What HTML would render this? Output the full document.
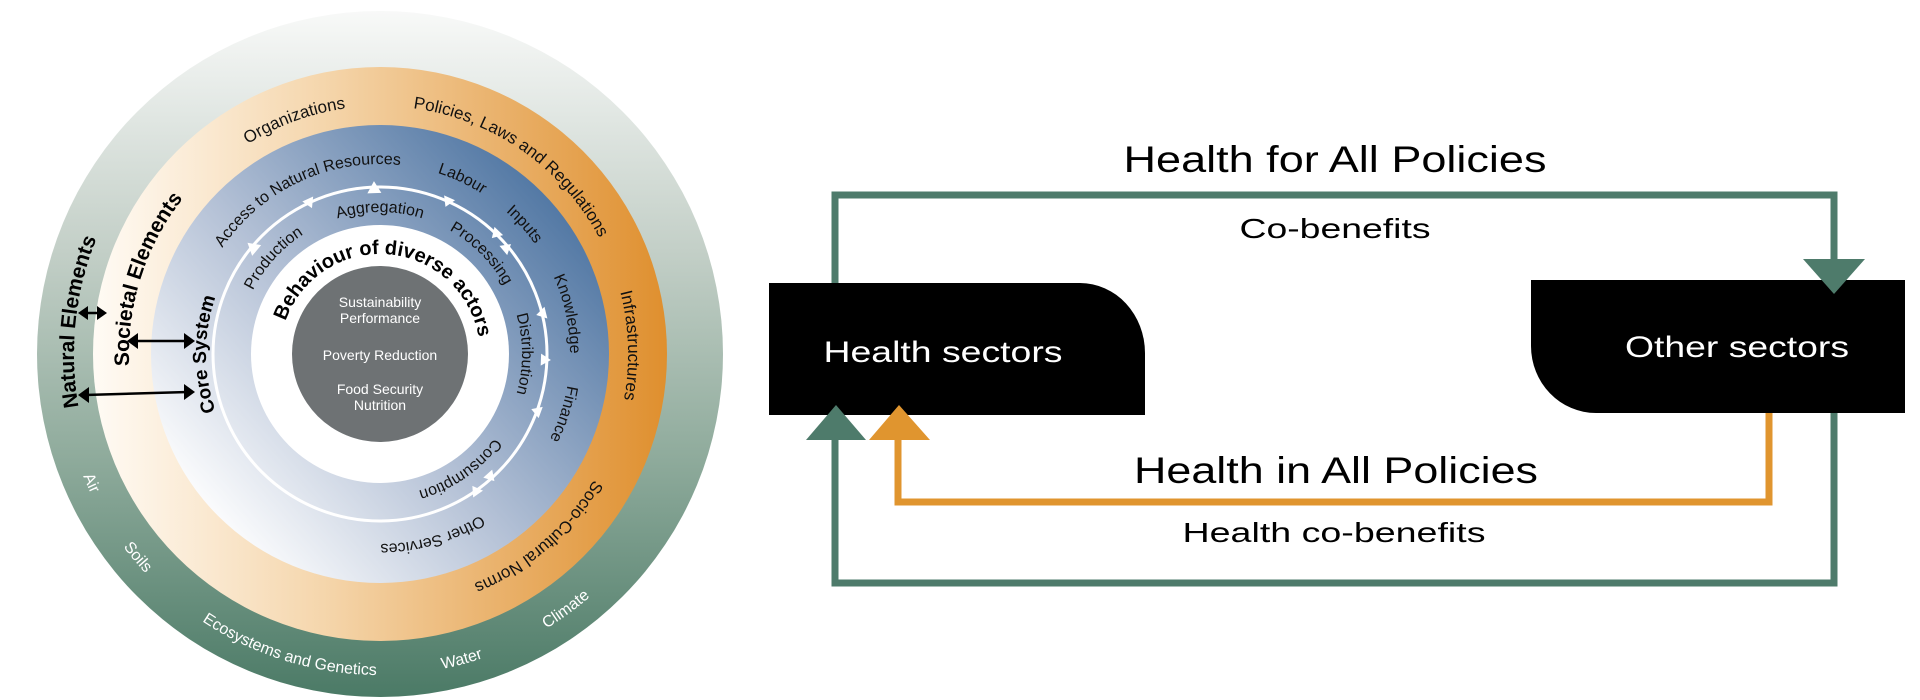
<!DOCTYPE html>
<html><head><meta charset="utf-8"><style>
html,body{margin:0;padding:0;background:#fff;width:1920px;height:700px;overflow:hidden}
svg{display:block}
text{font-family:"Liberation Sans",sans-serif}
</style></head><body>
<svg width="1920" height="700" viewBox="0 0 1920 700" xmlns="http://www.w3.org/2000/svg">
<defs>
<linearGradient id="gG" x1="0" y1="0" x2="0" y2="1">
<stop offset="0" stop-color="#f8f9f8"/><stop offset="0.35" stop-color="#c3cfc7"/><stop offset="0.65" stop-color="#8fab9c"/><stop offset="1" stop-color="#4b7a66"/></linearGradient>
<linearGradient id="gO" x1="0" y1="0" x2="1" y2="0">
<stop offset="0" stop-color="#fffbf5"/><stop offset="0.4" stop-color="#f5d6ac"/><stop offset="1" stop-color="#df8f2e"/></linearGradient>
<linearGradient id="gB" x1="0.1" y1="0.85" x2="0.9" y2="0.15">
<stop offset="0" stop-color="#ffffff"/><stop offset="0.45" stop-color="#b4c1d6"/><stop offset="1" stop-color="#4e75a2"/></linearGradient>
<path id="cw306" d="M380,660 a306,306 0 1,1 0,-612 a306,306 0 1,1 0,612 a306,306 0 1,1 0,-612 a306,306 0 1,1 0,612"/>
<path id="cw248" d="M380,602 a248,248 0 1,1 0,-496 a248,248 0 1,1 0,496 a248,248 0 1,1 0,-496 a248,248 0 1,1 0,496"/>
<path id="cw251" d="M380,605 a251,251 0 1,1 0,-502 a251,251 0 1,1 0,502 a251,251 0 1,1 0,-502 a251,251 0 1,1 0,502"/>
<path id="cw190" d="M380,544 a190,190 0 1,1 0,-380 a190,190 0 1,1 0,380 a190,190 0 1,1 0,-380 a190,190 0 1,1 0,380"/>
<path id="cw174" d="M380,528 a174,174 0 1,1 0,-348 a174,174 0 1,1 0,348 a174,174 0 1,1 0,-348 a174,174 0 1,1 0,348"/>
<path id="cw142" d="M380,496 a142,142 0 1,1 0,-284 a142,142 0 1,1 0,284 a142,142 0 1,1 0,-284 a142,142 0 1,1 0,284"/>
<path id="cw100" d="M380,454 a100,100 0 1,1 0,-200 a100,100 0 1,1 0,200 a100,100 0 1,1 0,-200 a100,100 0 1,1 0,200"/>
<path id="ccw321" d="M380,33 a321,321 0 1,0 0,642 a321,321 0 1,0 0,-642 a321,321 0 1,0 0,642 a321,321 0 1,0 0,-642"/>
</defs>

<circle cx="380" cy="354" r="343" fill="url(#gG)"/>
<circle cx="380" cy="354" r="287" fill="url(#gO)"/>
<circle cx="380" cy="354" r="229" fill="url(#gB)"/>
<circle cx="380" cy="354" r="167" fill="none" stroke="#fff" stroke-width="3"/>
<circle cx="380" cy="354" r="129" fill="#fff"/>
<circle cx="380" cy="354" r="88" fill="#6e7274"/>

<g font-size="16" fill="#fff">
<text><textPath href="#ccw321" startOffset="639" text-anchor="middle">Air</textPath></text>
<text><textPath href="#ccw321" startOffset="728" text-anchor="middle">Soils</textPath></text>
<text><textPath href="#ccw321" startOffset="912" text-anchor="middle">Ecosystems and Genetics</textPath></text>
<text><textPath href="#ccw321" startOffset="1092" text-anchor="middle">Water</textPath></text>
<text><textPath href="#ccw321" startOffset="1210" text-anchor="middle">Climate</textPath></text>
</g>
<text font-size="21" font-weight="bold" fill="#000"><textPath href="#cw306" startOffset="513" text-anchor="middle">Natural Elements</textPath></text>

<g font-size="17" fill="#111">
<text><textPath href="#cw248" startOffset="692" text-anchor="middle">Organizations</textPath></text>
<text><textPath href="#cw248" startOffset="930" text-anchor="middle">Policies, Laws and Regulations</textPath></text>
<text><textPath href="#cw248" startOffset="1160" text-anchor="middle">Infrastructures</textPath></text>
<text><textPath href="#cw248" startOffset="1381" text-anchor="middle">Socio-Cultural Norms</textPath></text>
</g>
<text font-size="21" font-weight="bold" fill="#000"><textPath href="#cw251" startOffset="472" text-anchor="middle">Societal Elements</textPath></text>

<g font-size="16" fill="#111">
<text><textPath href="#cw190" startOffset="514" text-anchor="middle">Access to Natural Resources</textPath></text>
<text><textPath href="#cw190" startOffset="680" text-anchor="middle">Labour</textPath></text>
<text><textPath href="#cw190" startOffset="756" text-anchor="middle">Inputs</textPath></text>
<text><textPath href="#cw190" startOffset="855" text-anchor="middle">Knowledge</textPath></text>
<text><textPath href="#cw190" startOffset="955" text-anchor="middle">Finance</textPath></text>
<text><textPath href="#cw190" startOffset="1140" text-anchor="middle">Other Services</textPath></text>
</g>
<text font-size="19" font-weight="bold" fill="#000"><textPath href="#cw174" startOffset="273" text-anchor="middle">Core System</textPath></text>

<g font-size="16" fill="#111">
<text><textPath href="#cw142" startOffset="327" text-anchor="middle">Production</textPath></text>
<text><textPath href="#cw142" startOffset="446" text-anchor="middle">Aggregation</textPath></text>
<text><textPath href="#cw142" startOffset="558" text-anchor="middle">Processing</textPath></text>
<text><textPath href="#cw142" startOffset="669" text-anchor="middle">Distribution</textPath></text>
<text><textPath href="#cw142" startOffset="806" text-anchor="middle">Consumption</textPath></text>
</g>
<text font-size="20" font-weight="bold" fill="#000"><textPath href="#cw100" startOffset="322" text-anchor="middle">Behaviour of diverse actors</textPath></text>

<g font-size="14" fill="#fff" text-anchor="middle">
<text x="380" y="307">Sustainability</text>
<text x="380" y="323">Performance</text>
<text x="380" y="360">Poverty Reduction</text>
<text x="380" y="394">Food Security</text>
<text x="380" y="410">Nutrition</text>
</g>

<g fill="#fff">
<g transform="rotate(-25 380 354)"><path d="M374,183 L386,183 L380,193 Z"/></g>
<g transform="rotate(-2 380 354)"><path d="M373,193 L387,193 L380,181 Z"/></g>
<g transform="rotate(24 380 354)"><path d="M374,183 L386,183 L380,193 Z"/></g>
<g transform="rotate(44 380 354)"><path d="M374,183 L386,183 L380,193 Z"/></g>
<g transform="rotate(50 380 354)"><path d="M374,193 L386,193 L380,183 Z"/></g>
<g transform="rotate(76 380 354)"><path d="M374,183 L386,183 L380,193 Z"/></g>
<g transform="rotate(92 380 354)"><path d="M374,193 L386,193 L380,183 Z"/></g>
<g transform="rotate(110 380 354)"><path d="M374,183 L386,183 L380,193 Z"/></g>
<g transform="rotate(138 380 354)"><path d="M374,193 L386,193 L380,183 Z"/></g>
<g transform="rotate(145 380 354)"><path d="M374,183 L386,183 L380,193 Z"/></g>
<g transform="rotate(-50 380 354)"><path d="M373,193 L387,193 L380,181 Z"/></g>
</g>

<g stroke="#000" stroke-width="2.5" fill="#000">
<line x1="84" y1="313" x2="101" y2="313"/>
<path d="M78,313 L88,306 L88,320 Z" stroke="none"/><path d="M107,313 L97,306 L97,320 Z" stroke="none"/>
<line x1="134" y1="341" x2="188" y2="341"/>
<path d="M127,341 L138,333 L138,349 Z" stroke="none"/><path d="M195,341 L184,333 L184,349 Z" stroke="none"/>
<line x1="85" y1="395" x2="188" y2="392"/>
<path d="M78,395 L89,387 L89,403 Z" stroke="none"/><path d="M195,392 L184,384 L184,400 Z" stroke="none"/>
</g>

<rect x="835" y="195" width="999" height="388" fill="none" stroke="#4e7b6b" stroke-width="7"/>
<polyline points="898,430 898,502 1769,502 1769,410" fill="none" stroke="#e0952f" stroke-width="7"/>
<path d="M769,283 H1080 A65,70 0 0 1 1145,353 V415 H769 Z" fill="#000"/>
<path d="M1531,280 H1905 V413 H1596 A65,67 0 0 1 1531,346 Z" fill="#000"/>
<path d="M1803,259 L1865,259 L1834,294 Z" fill="#4e7b6b"/>
<path d="M806,440 L866,440 L836,405 Z" fill="#4e7b6b"/>
<path d="M869,440 L930,440 L899,405 Z" fill="#e0952f"/>

<text x="1335" y="172" font-size="37" text-anchor="middle" textLength="423" lengthAdjust="spacingAndGlyphs">Health for All Policies</text>
<text x="1335" y="238" font-size="28" text-anchor="middle" textLength="191" lengthAdjust="spacingAndGlyphs">Co-benefits</text>
<text x="943" y="362" font-size="30" fill="#fff" text-anchor="middle" textLength="239" lengthAdjust="spacingAndGlyphs">Health sectors</text>
<text x="1737" y="357" font-size="30" fill="#fff" text-anchor="middle" textLength="224" lengthAdjust="spacingAndGlyphs">Other sectors</text>
<text x="1336" y="483" font-size="37" text-anchor="middle" textLength="404" lengthAdjust="spacingAndGlyphs">Health in All Policies</text>
<text x="1334" y="542" font-size="28" text-anchor="middle" textLength="303" lengthAdjust="spacingAndGlyphs">Health co-benefits</text>
</svg>
</body></html>
